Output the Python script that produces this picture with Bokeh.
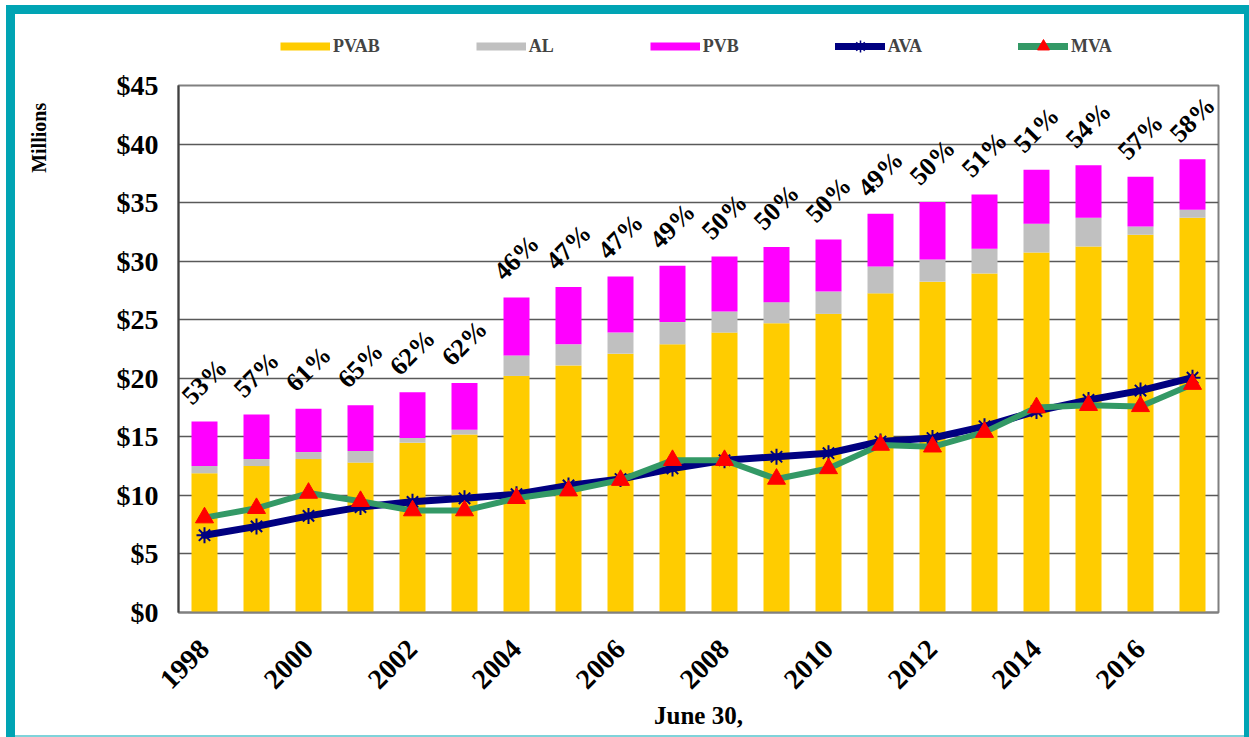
import math
from bokeh.plotting import figure
from bokeh.layouts import column, row
from bokeh.models import (ColumnDataSource, FixedTicker, NumeralTickFormatter, Range1d,
                          Legend, LegendItem, Label)
from bokeh.core.properties import value
from bokeh.embed import file_html
from bokeh.resources import INLINE

# ---- data (millions of dollars, June 30 of each year) ----
years = list(range(1998, 2018))
pvab = [11.9, 12.5, 13.1, 12.8, 14.5, 15.2, 20.2, 21.1, 22.1, 22.9,
        23.9, 24.7, 25.5, 27.25, 28.25, 28.95, 30.75, 31.25, 32.25, 33.7]
al = [0.6, 0.6, 0.6, 1.0, 0.4, 0.4, 1.75, 1.8, 1.8, 1.9,
      1.8, 1.8, 1.9, 2.3, 1.9, 2.1, 2.45, 2.45, 0.7, 0.7]
pvb = [3.8, 3.8, 3.7, 3.9, 3.9, 4.0, 4.95, 4.9, 4.8, 4.8,
       4.7, 4.7, 4.45, 4.5, 4.9, 4.65, 4.6, 4.5, 4.25, 4.3]
ava = [6.6, 7.35, 8.25, 9.0, 9.45, 9.75, 10.1, 10.85, 11.4, 12.3,
       13.0, 13.3, 13.6, 14.6, 14.9, 15.9, 17.2, 18.15, 18.95, 20.05]
mva = [8.1, 8.9, 10.2, 9.5, 8.7, 8.7, 9.75, 10.4, 11.3, 13.0,
       13.0, 11.4, 12.3, 14.3, 14.15, 15.4, 17.5, 17.7, 17.6, 19.5]
pct_labels = ["53%", "57%", "61%", "65%", "62%", "62%", "46%", "47%", "47%", "49%",
              "50%", "50%", "50%", "49%", "50%", "51%", "51%", "54%", "57%", "58%"]
y_ticks = [0, 5, 10, 15, 20, 25, 30, 35, 40, 45]
x_ticks = [1998, 2000, 2002, 2004, 2006, 2008, 2010, 2012, 2014, 2016]

FONT = "Liberation Serif"
C_PVAB = "#FFCC00"
C_AL = "#C0C0C0"
C_PVB = "#FF00FF"
C_AVA = "#000080"
C_MVA = "#339966"
C_TRI = "#FF0000"
TEAL = "#00A4B4"

top = [a + b + c for a, b, c in zip(pvab, al, pvb)]
src = ColumnDataSource(dict(year=years, pvab=pvab, al=al, pvb=pvb, ava=ava, mva=mva,
                            top=top, pct=pct_labels))


def bare(width, height, xr, yr):
    f = figure(width=width, height=height, output_backend="svg", toolbar_location=None,
               x_range=xr, y_range=yr, x_axis_type=None, y_axis_type=None,
               min_border=0, background_fill_alpha=0, border_fill_alpha=0)
    f.outline_line_color = None
    f.grid.visible = False
    return f


# ---------------- legend strip (top) ----------------
LEG_H = 62
leg_fig = bare(1249, LEG_H, Range1d(0, 1), Range1d(0, 1))
proxy = ColumnDataSource(dict(x=[float("nan")], y=[float("nan")]))
lp_pvab = leg_fig.line("x", "y", source=proxy, line_color=C_PVAB, line_width=8)
lp_al = leg_fig.line("x", "y", source=proxy, line_color=C_AL, line_width=8)
lp_pvb = leg_fig.line("x", "y", source=proxy, line_color=C_PVB, line_width=8)
lp_ava_l = leg_fig.line("x", "y", source=proxy, line_color=C_AVA, line_width=7, line_cap="round")
lp_ava_m = leg_fig.scatter("x", "y", source=proxy, marker="asterisk", size=14,
                           line_color=C_AVA, line_width=1.5)
lp_mva_l = leg_fig.line("x", "y", source=proxy, line_color=C_MVA, line_width=7, line_cap="round")
lp_mva_m = leg_fig.scatter("x", "y", source=proxy, marker="triangle", size=14,
                           fill_color=C_TRI, line_color=C_TRI)
legend = Legend(items=[
    LegendItem(label="PVAB", renderers=[lp_pvab]),
    LegendItem(label="AL", renderers=[lp_al]),
    LegendItem(label="PVB", renderers=[lp_pvb]),
    LegendItem(label="AVA", renderers=[lp_ava_l, lp_ava_m]),
    LegendItem(label="MVA", renderers=[lp_mva_l, lp_mva_m]),
], orientation="horizontal", location=(280, 1), glyph_width=50, glyph_height=30,
    label_standoff=3, spacing=96, padding=0, margin=0,
    border_line_color=None, background_fill_alpha=0,
    label_text_font=FONT, label_text_font_style="bold", label_text_font_size="18px")
leg_fig.add_layout(legend)

# ---------------- "Millions" caption strip (left) ----------------
MAIN_H = 737 - LEG_H
CAP_W = 60
cap_fig = bare(CAP_W, MAIN_H, Range1d(0, CAP_W), Range1d(0, MAIN_H))
cap_fig.add_layout(Label(x=38.5, y=MAIN_H - (129 - LEG_H), text="Millions",
                         angle=math.pi / 2, text_align="center", text_baseline="middle",
                         text_font=FONT, text_font_style="bold", text_font_size="20px",
                         text_color="black"))

# ---------------- main chart ----------------
p = figure(width=1249 - CAP_W, height=MAIN_H, output_backend="svg", toolbar_location=None,
           x_range=Range1d(1997.5, 2017.5), y_range=Range1d(0, 45),
           min_border_left=178 - CAP_W, min_border_right=31,
           min_border_top=85 - LEG_H, min_border_bottom=125,
           background_fill_color="white", border_fill_alpha=0)

p.vbar_stack(["pvab", "al", "pvb"], x="year", width=0.5, source=src,
             fill_color=[C_PVAB, C_AL, C_PVB], line_color=None)

p.line("year", "ava", source=src, line_color=C_AVA, line_width=7,
       line_join="round", line_cap="round")
p.scatter("year", "ava", source=src, marker="asterisk", size=16,
          line_color=C_AVA, line_width=2)
p.line("year", "mva", source=src, line_color=C_MVA, line_width=6,
       line_join="round", line_cap="round")
p.scatter("year", "mva", source=src, marker="triangle", size=18,
          fill_color=C_TRI, line_color=C_TRI)

p.text(x="year", y="top", text="pct", source=src, angle=math.pi / 4,
       text_align="center", text_baseline="middle", y_offset=-40,
       text_font=value(FONT), text_font_style="bold", text_font_size="26px",
       text_color="black")

p.yaxis.ticker = FixedTicker(ticks=y_ticks)
p.yaxis.formatter = NumeralTickFormatter(format="$0")
p.yaxis.major_label_text_font = FONT
p.yaxis.major_label_text_font_style = "bold"
p.yaxis.major_label_text_font_size = "28px"
p.yaxis.major_label_standoff = 20
p.yaxis.axis_line_color = "#404040"
p.yaxis.axis_line_width = 2

p.xaxis.ticker = FixedTicker(ticks=x_ticks)
p.xaxis.major_label_orientation = math.pi / 4
p.xaxis.major_label_text_font = FONT
p.xaxis.major_label_text_font_style = "bold"
p.xaxis.major_label_text_font_size = "28px"
p.xaxis.major_label_standoff = 32
p.xaxis.axis_line_color = "#808080"
p.xaxis.axis_line_width = 2
p.xaxis.axis_label = "June 30,"
p.xaxis.axis_label_text_font = FONT
p.xaxis.axis_label_text_font_style = "bold"
p.xaxis.axis_label_text_font_size = "25px"
p.xaxis.axis_label_standoff = 2

for ax in (p.xaxis, p.yaxis):
    ax.major_tick_out = 0
    ax.major_tick_in = 0
    ax.minor_tick_out = 0
    ax.minor_tick_in = 0
    ax.major_label_text_color = "black"
    ax.axis_label_text_color = "black"

p.xgrid.visible = False
p.ygrid.grid_line_color = "#595959"
p.ygrid.grid_line_width = 1.3
p.outline_line_color = "#808080"
p.outline_line_width = 2

page = column(leg_fig, row(cap_fig, p, spacing=0), spacing=0)
page.styles = {
    "background-color": "white",
    "box-shadow": (f"inset 6px 5px 0 0 white, inset 15px 14px 0 0 {TEAL}, "
                   f"inset -5px 0 0 0 {TEAL}, inset 0 -2px 0 0 #7FD3DA"),
}

open("out.html", "w").write(file_html(page, INLINE))
